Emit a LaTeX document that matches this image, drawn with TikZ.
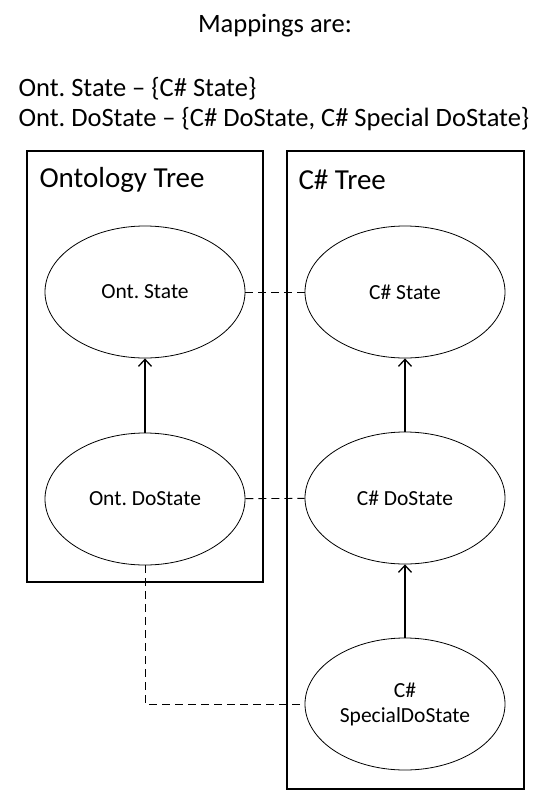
\documentclass[tikz,border=0pt]{standalone}
\usepackage{fontspec}
\setmainfont{Carlito}
\frenchspacing
\usetikzlibrary{shapes.geometric,arrows.meta}
\tikzset{
  state/.style={ellipse,draw,line width=0.8pt,minimum width=200pt,minimum height=132pt,inner sep=0pt,align=center,font=\fontsize{21.5}{25}\selectfont},
  tree/.style={draw,line width=1.3pt},
  map/.style={line width=0.9pt,dash pattern=on 8pt off 5pt},
  isa/.style={line width=1.3pt,-{Straight Barb[length=7pt,width=13pt]}}
}
\begin{document}
\begin{tikzpicture}[x=1pt,y=-1pt]
\useasboundingbox (0,0) rectangle (549,806);
\node[font=\fontsize{26.5}{31}\selectfont] (head) at (275,26) {Mappings are:};
\node[anchor=west,font=\fontsize{26.5}{31}\selectfont] (mapa) at (15,89) {Ont. State -- \{C\# State\}};
\node[anchor=west,font=\fontsize{26.5}{31}\selectfont] (mapb) at (15,119) {Ont. DoState -- \{C\# DoState, C\# Special DoState\}};
% the two trees
\draw[tree] (27,151) rectangle (263,582);
\draw[tree] (287,151) rectangle (524,789);
\node[anchor=west,font=\fontsize{29}{34}\selectfont] (ont) at (36,180) {Ontology Tree};
\node[anchor=west,font=\fontsize{29}{34}\selectfont] (cs) at (295,180) {C\# Tree};
% states
\node[state] (OS) at (145,292) {Ont. State};
\node[state] (OD) at (145,499) {Ont. DoState};
\node[state] (CS) at (405,292) {C\# State};
\node[state] (CD) at (405,498) {C\# DoState};
\node[state] (CX) at (405,704) {C\#\\SpecialDoState};
\draw[isa] (OD) -- (OS);
\draw[isa] (CD) -- (CS);
\draw[isa] (CX) -- (CD);
% mappings
\draw[map] (OS) -- (CS);
\draw[map] (OD) -- (CD);
\draw[map] (OD.south) |- (CX.west);
\end{tikzpicture}
\end{document}
